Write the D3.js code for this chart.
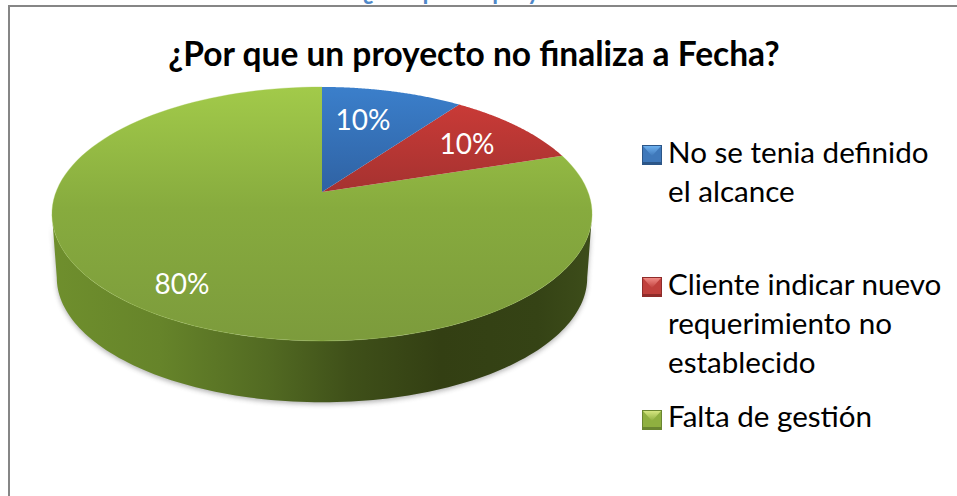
<!DOCTYPE html>
<html>
<head>
<meta charset="utf-8">
<script src="https://cdn.jsdelivr.net/npm/d3@7/dist/d3.min.js"></script>
<style>html,body{margin:0;padding:0;background:#fff}svg{display:block}text{font-family:Lato,"Open Sans",sans-serif}</style>
</head>
<body>
<svg id="c" width="957" height="496"></svg>
<script>
const pageHeading = "Gráfico 1: ¿Por que un proyecto no finaliza?";
const chartTitle = "¿Por que un proyecto no finaliza a Fecha?";
const categories = ["No se tenia definido el alcance", "Cliente indicar nuevo requerimiento no establecido", "Falta de gestión"];
const legendLines = [["No se tenia definido", "el alcance"], ["Cliente indicar nuevo", "requerimiento no", "establecido"], ["Falta de gestión"]];
const values = [10, 10, 80];
const valueLabels = ["10%", "10%", "80%"];
const topColors = [["#3b7fcb", "#2f62a3"], ["#d03c38", "#a53230"], ["#a2ca4a", "#7c9b3c"]];
const markerColors = [["#6db0ee", "#3f78ba", "#2c5688"], ["#f08a84", "#c0403c", "#8f2c2a"], ["#d5e680", "#8fb040", "#6a8631"]];

const svg = d3.select("#c");
const defs = svg.append("defs");

// perspective projection of the pie disc
const apex = [322, 192], A = 266, B = 123.2, K = 0.173;
const project = (t, s = 1, dy = 0) => {
  const u = Math.sin(t), v = Math.cos(t), w = 1 + K * v;
  return [apex[0] + s * A * u / w, apex[1] + dy - s * B * v / w];
};
const arcs = d3.pie().sort(null)(values);
const line = d3.line();
const samples = (a, b, n = 120) => d3.range(n + 1).map(i => a + (b - a) * i / n);

// gradients
topColors.forEach((c, i) => {
  const g = defs.append("linearGradient").attr("id", "top" + i)
    .attr("gradientUnits", "userSpaceOnUse").attr("x1", 0).attr("x2", 0)
    .attr("y1", 87).attr("y2", i === 2 ? 341 : 192);
  g.append("stop").attr("offset", 0).attr("stop-color", c[0]);
  if (i === 2) g.append("stop").attr("offset", 0.48).attr("stop-color", "#87ab3e");
  g.append("stop").attr("offset", 1).attr("stop-color", c[1]);
});
const side = defs.append("linearGradient").attr("id", "side")
  .attr("gradientUnits", "userSpaceOnUse").attr("x1", 52).attr("x2", 592).attr("y1", 0).attr("y2", 0);
[[0, "#6f8f2d"], [0.2, "#66842a"], [0.4, "#526a22"], [0.55, "#3f5019"], [0.72, "#333f13"], [0.9, "#354315"], [1, "#3d4d1a"]]
  .forEach(d => side.append("stop").attr("offset", d[0]).attr("stop-color", d[1]));
defs.append("filter").attr("id", "blur").attr("x", "-10%").attr("y", "-10%").attr("width", "120%").attr("height", "120%")
  .append("feGaussianBlur").attr("stdDeviation", 2.5);

// page heading, cut by the top of the picture, and frame
svg.append("text").attr("x", 256).attr("y", -0.5).attr("font-size", 23.5).attr("font-weight", 700)
  .attr("fill", "#4f88c8").text(pageHeading);
svg.append("path").attr("d", "M9,496V6H957").attr("fill", "none").attr("stroke", "#868686").attr("stroke-width", 2);

svg.append("text").attr("x", 474).attr("y", 66).attr("text-anchor", "middle").attr("font-size", 33.5)
  .attr("font-weight", 700).attr("fill", "#000").text(chartTitle);

// disc side
const t0 = Math.acos(-K), t1 = 2 * Math.PI - t0;
const sideS = 0.982, sideDy = 64;
const sidePts = samples(t0, t1).map(t => project(t)).concat(samples(t1, t0).map(t => project(t, sideS, sideDy)));
svg.append("path").attr("d", line(sidePts) + "Z").attr("fill", "#555").attr("opacity", 0.45)
  .attr("filter", "url(#blur)").attr("transform", "translate(0,2)");
svg.append("path").attr("d", line(sidePts) + "Z").attr("fill", "url(#side)");

// disc top
arcs.slice().reverse().forEach(a => {
  const i = a.index;
  const pts = [apex].concat(samples(a.startAngle, a.endAngle).map(t => project(t)));
  svg.append("path").attr("d", line(pts) + "Z").attr("fill", `url(#top${i})`);
});
// light rim on the green slice
const g = arcs[2];
svg.append("path").attr("d", line(samples(g.startAngle, g.endAngle).map(t => project(t))))
  .attr("fill", "none").attr("stroke", "#a4c856").attr("stroke-width", 0.8).attr("opacity", 0.4);

// value labels
const labelAt = [[363, 130], [467, 154], [182, 294]];
valueLabels.forEach((d, i) => {
  svg.append("text").attr("x", labelAt[i][0]).attr("y", labelAt[i][1]).attr("text-anchor", "middle")
    .attr("font-size", 28).attr("fill", "#fff").text(d);
});

// legend
const legendMarkerY = [145, 277, 410], legendBase = [163, 295, 427];
categories.forEach((c, i) => {
  const grad = defs.append("linearGradient").attr("id", "m" + i).attr("x1", 0).attr("x2", 0).attr("y1", 0).attr("y2", 1);
  grad.append("stop").attr("offset", 0).attr("stop-color", markerColors[i][0]);
  grad.append("stop").attr("offset", 1).attr("stop-color", markerColors[i][1]);
  const y = legendMarkerY[i];
  svg.append("rect").attr("x", 642).attr("y", y).attr("width", 20).attr("height", 20).attr("fill", markerColors[i][2]);
  svg.append("rect").attr("x", 643).attr("y", y + 1).attr("width", 18).attr("height", 16).attr("fill", markerColors[i][1]);
  svg.append("path").attr("d", d3.line()([[643, y + 1], [661, y + 1], [652, y + 11]]) + "Z").attr("fill", `url(#m${i})`);
  const t = svg.append("text").attr("font-size", 29.6).attr("fill", "#000");
  legendLines[i].forEach((l, j) => {
    t.append("tspan").attr("x", 668).attr("y", legendBase[i] + j * 38.8).text(l);
  });
});
</script>
</body>
</html>
